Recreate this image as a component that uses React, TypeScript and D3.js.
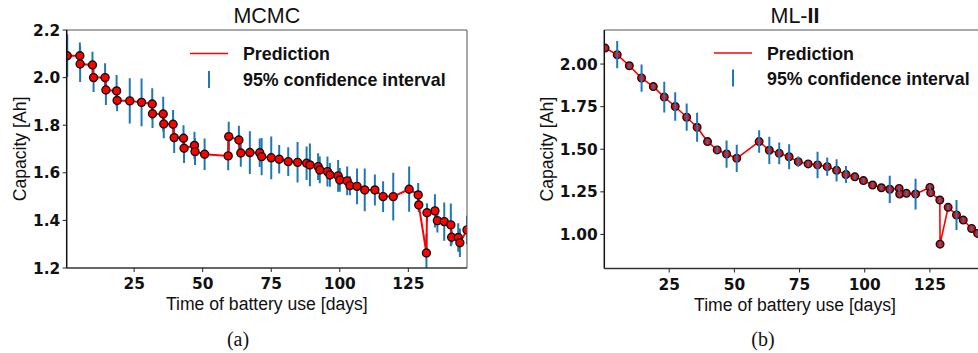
import React from "react";
import * as d3 from "d3";

// ---------- MCMC panel data ----------
const mcmcDays = [0.6, 5.2, 5.3, 9.8, 10.2, 14.4, 14.7, 18.6, 18.8, 23.4, 27.7, 31.6, 31.7, 35.6, 35.8, 39.2, 39.6, 43.0, 43.2, 47.0, 47.2, 50.7, 59.3, 59.5, 63.2, 63.9, 67.2, 70.8, 71.5, 75.0, 77.9, 81.2, 84.6, 87.9, 89.1, 92.1, 92.7, 95.5, 96.4, 99.4, 100.0, 102.7, 103.7, 106.3, 109.1, 112.8, 115.8, 119.5, 125.3, 128.6, 128.8, 131.6, 131.8, 134.7, 135.6, 138.1, 140.5, 140.8, 143.2, 143.8, 146.4];
const mcmcCapacity = [2.092, 2.092, 2.057, 2.053, 2.0, 2.0, 1.948, 1.944, 1.904, 1.902, 1.896, 1.889, 1.848, 1.847, 1.805, 1.804, 1.748, 1.745, 1.703, 1.715, 1.689, 1.678, 1.671, 1.752, 1.738, 1.683, 1.685, 1.684, 1.668, 1.663, 1.657, 1.647, 1.644, 1.640, 1.633, 1.626, 1.612, 1.605, 1.591, 1.587, 1.570, 1.566, 1.546, 1.543, 1.528, 1.528, 1.50, 1.50, 1.531, 1.507, 1.465, 1.263, 1.432, 1.440, 1.399, 1.395, 1.381, 1.329, 1.328, 1.306, 1.36];
const mcmcHalfCI = [0.09, 0.055, 0.075, 0.056, 0.06, 0.06, 0.063, 0.067, 0.045, 0.095, 0.1, 0.066, 0.06, 0.073, 0.06, 0.06, 0.065, 0.055, 0.062, 0.058, 0.056, 0.066, 0.06, 0.063, 0.06, 0.058, 0.09, 0.06, 0.078, 0.09, 0.06, 0.06, 0.085, 0.07, 0.09, 0.056, 0.056, 0.063, 0.05, 0.067, 0.05, 0.06, 0.04, 0.075, 0.09, 0.065, 0.065, 0.1, 0.095, 0.05, 0.03, 0.08, 0.04, 0.07, 0.05, 0.08, 0.09, 0.03, 0.06, 0.06, 0.06];

// ---------- ML-II panel data ----------
const ml2Days = [0.4, 5.05, 9.7, 14.4, 18.9, 23.1, 27.3, 31.7, 35.7, 39.7, 43.4, 47.0, 50.9, 59.5, 63.4, 67.2, 71.0, 74.5, 78.3, 81.9, 85.6, 89.2, 92.8, 96.2, 99.5, 103.0, 106.4, 109.6, 113.2, 113.4, 116.0, 119.5, 125.0, 125.3, 128.8, 128.9, 132.0, 135.2, 137.8, 141.0, 143.3, 146.4];
const ml2Capacity = [2.094, 2.055, 1.99, 1.918, 1.868, 1.806, 1.751, 1.688, 1.629, 1.545, 1.496, 1.472, 1.447, 1.545, 1.494, 1.476, 1.456, 1.427, 1.414, 1.408, 1.398, 1.376, 1.352, 1.338, 1.316, 1.29, 1.274, 1.265, 1.27, 1.237, 1.241, 1.237, 1.276, 1.245, 1.202, 0.943, 1.159, 1.114, 1.084, 1.035, 1.006, 0.99];
const ml2HalfCI = [0.01, 0.08, 0.015, 0.08, 0.015, 0.09, 0.083, 0.08, 0.085, 0.015, 0.02, 0.08, 0.08, 0.066, 0.08, 0.064, 0.074, 0.03, 0.015, 0.078, 0.053, 0.065, 0.05, 0.015, 0.015, 0.015, 0.015, 0.08, 0.015, 0.015, 0.015, 0.09, 0.015, 0.015, 0.015, 0.015, 0.015, 0.088, 0.015, 0.015, 0.015, 0.015];

// ---------- ticks / labels ----------
const xTicks = [25, 50, 75, 100, 125];
const mcmcYTicks = [1.2, 1.4, 1.6, 1.8, 2.0, 2.2];
const ml2YTicks = [1.0, 1.25, 1.5, 1.75, 2.0];
const legendLabels = ["Prediction", "95% confidence interval"];
const xLabel = "Time of battery use [days]";
const yLabel = "Capacity [Ah]";

const BLUE = "#1f77b4";
const RED = "#ff0000";
const TICK_FONT = "'DejaVu Sans', sans-serif";
const SANS = "'Liberation Sans', Arial, sans-serif";

type PanelProps = {
  id: string;
  days: number[];
  values: number[];
  halfCI: number[];
  xDomain: [number, number];
  yDomain: [number, number];
  yTicks: number[];
  yFmt: (v: number) => string;
  left: number;
  right: number;
  top: number;
  bottom: number;
  barsOnTop: boolean;
  title: React.ReactNode;
  caption: string;
  captionX: number;
  yLabelX: number;
  legendX: number;
  legendY: [number, number];
  lineWidth: number;
  markerR: number;
};

function Panel(p: PanelProps) {
  const x = d3.scaleLinear().domain(p.xDomain).range([p.left, p.right]);
  const y = d3.scaleLinear().domain(p.yDomain).range([p.bottom, p.top]);
  const pts = p.days.map((d, i) => ({ d, v: p.values[i], e: p.halfCI[i] }));
  const line = d3
    .line<{ d: number; v: number }>()
    .x((q) => x(q.d))
    .y((q) => y(q.v))(pts);
  const cx = (p.left + p.right) / 2;
  const cy = (p.top + p.bottom) / 2;
  const clipId = "clip-" + p.id;

  const bars = (
    <g stroke={BLUE} strokeWidth={2}>
      {pts.map((q, i) => (
        <line key={i} x1={x(q.d)} x2={x(q.d)} y1={y(q.v - q.e)} y2={y(q.v + q.e)} />
      ))}
    </g>
  );

  const lx = p.legendX;
  return (
    <g>
      <defs>
        <clipPath id={clipId}>
          <rect x={p.left} y={p.top} width={p.right - p.left} height={p.bottom - p.top} />
        </clipPath>
      </defs>
      <g clipPath={`url(#${clipId})`}>
        {!p.barsOnTop && bars}
        <path d={line || ""} fill="none" stroke={RED} strokeWidth={p.lineWidth} />
        <g fill={RED} stroke="#111" strokeWidth={1.4}>
          {pts.map((q, i) => (
            <circle key={i} cx={x(q.d)} cy={y(q.v)} r={p.markerR} />
          ))}
        </g>
        {p.barsOnTop && bars}
      </g>
      {/* spines */}
      <line x1={p.left} x2={p.right} y1={p.top} y2={p.top} stroke="#555" strokeWidth={1} />
      <line x1={p.right} x2={p.right} y1={p.top} y2={p.bottom} stroke="#555" strokeWidth={1} />
      <line x1={p.left} x2={p.left} y1={p.top} y2={p.bottom} stroke="#111" strokeWidth={1.5} />
      <line x1={p.left} x2={p.right} y1={p.bottom} y2={p.bottom} stroke="#333" strokeWidth={1.5} />
      {/* y ticks */}
      {p.yTicks.map((t) => (
        <g key={t}>
          <line x1={p.left - 4} x2={p.left} y1={y(t)} y2={y(t)} stroke="#222" strokeWidth={1} />
          <text x={p.left - 6.5} y={y(t)} dy="0.36em" textAnchor="end" fontFamily={TICK_FONT} fontWeight="bold" fontSize={15.4} fill="#111">
            {p.yFmt(t)}
          </text>
        </g>
      ))}
      {/* x ticks */}
      {xTicks.map((t) => (
        <g key={t}>
          <line x1={x(t)} x2={x(t)} y1={p.bottom} y2={p.bottom + 4} stroke="#222" strokeWidth={1} />
          <text x={x(t)} y={p.bottom + 21} textAnchor="middle" fontFamily={TICK_FONT} fontWeight="bold" fontSize={15.4} fill="#111">
            {String(t)}
          </text>
        </g>
      ))}
      {/* axis labels */}
      <text x={cx} y={p.bottom + 42} textAnchor="middle" fontFamily={SANS} fontSize={17.6} fill="#111">
        {xLabel}
      </text>
      <text transform={`translate(${p.yLabelX},${cy}) rotate(-90)`} textAnchor="middle" fontFamily={SANS} fontSize={17.6} fill="#111">
        {yLabel}
      </text>
      {/* title */}
      <text x={cx} y={p.top - 7} textAnchor="middle" fontFamily={SANS} fontSize={21.5} fill="#111">
        {p.title}
      </text>
      {/* legend */}
      <line x1={lx} x2={lx + 38} y1={p.legendY[0] - 6.5} y2={p.legendY[0] - 6.5} stroke={RED} strokeWidth={1.6} />
      <line x1={lx + 19} x2={lx + 19} y1={p.legendY[1] - 15} y2={p.legendY[1] + 2} stroke={BLUE} strokeWidth={2} />
      <text x={lx + 53} y={p.legendY[0]} fontFamily={SANS} fontWeight="bold" fontSize={17.8} fill="#111">
        {legendLabels[0]}
      </text>
      <text x={lx + 53} y={p.legendY[1]} fontFamily={SANS} fontWeight="bold" fontSize={17.8} fill="#111">
        {legendLabels[1]}
      </text>
      {/* caption */}
      <text x={p.captionX} y={346} textAnchor="middle" fontFamily="'Liberation Serif', 'Times New Roman', serif" fontSize={20} fill="#111">
        {p.caption}
      </text>
    </g>
  );
}

export default function App() {
  return (
    <svg width={978} height={353} style={{ position: "absolute", left: 0, top: 0, background: "#fff" }}>
      <rect x={0} y={0} width={978} height={353} fill="#fff" />
      <Panel
        id="a"
        days={mcmcDays}
        values={mcmcCapacity}
        halfCI={mcmcHalfCI}
        xDomain={[0.4, 146.4]}
        yDomain={[1.2, 2.2]}
        yTicks={mcmcYTicks}
        yFmt={(v) => v.toFixed(1)}
        left={66.7}
        right={467}
        top={30}
        bottom={268}
        barsOnTop={false}
        title="MCMC"
        caption="(a)"
        captionX={238}
        yLabelX={26}
        legendX={190}
        legendY={[60, 86]}
        lineWidth={2}
        markerR={4}
      />
      <Panel
        id="b"
        days={ml2Days}
        values={ml2Capacity}
        halfCI={ml2HalfCI}
        xDomain={[0.1, 146.4]}
        yDomain={[0.8, 2.2]}
        yTicks={ml2YTicks}
        yFmt={(v) => v.toFixed(2)}
        left={604.3}
        right={985.7}
        top={30}
        bottom={268.5}
        barsOnTop={true}
        title={
          <>
            <tspan>ML-</tspan>
            <tspan fontWeight="bold">II</tspan>
          </>
        }
        caption="(b)"
        captionX={763}
        yLabelX={553}
        legendX={714}
        legendY={[59.5, 84.5]}
        lineWidth={1.6}
        markerR={3.8}
      />
    </svg>
  );
}
